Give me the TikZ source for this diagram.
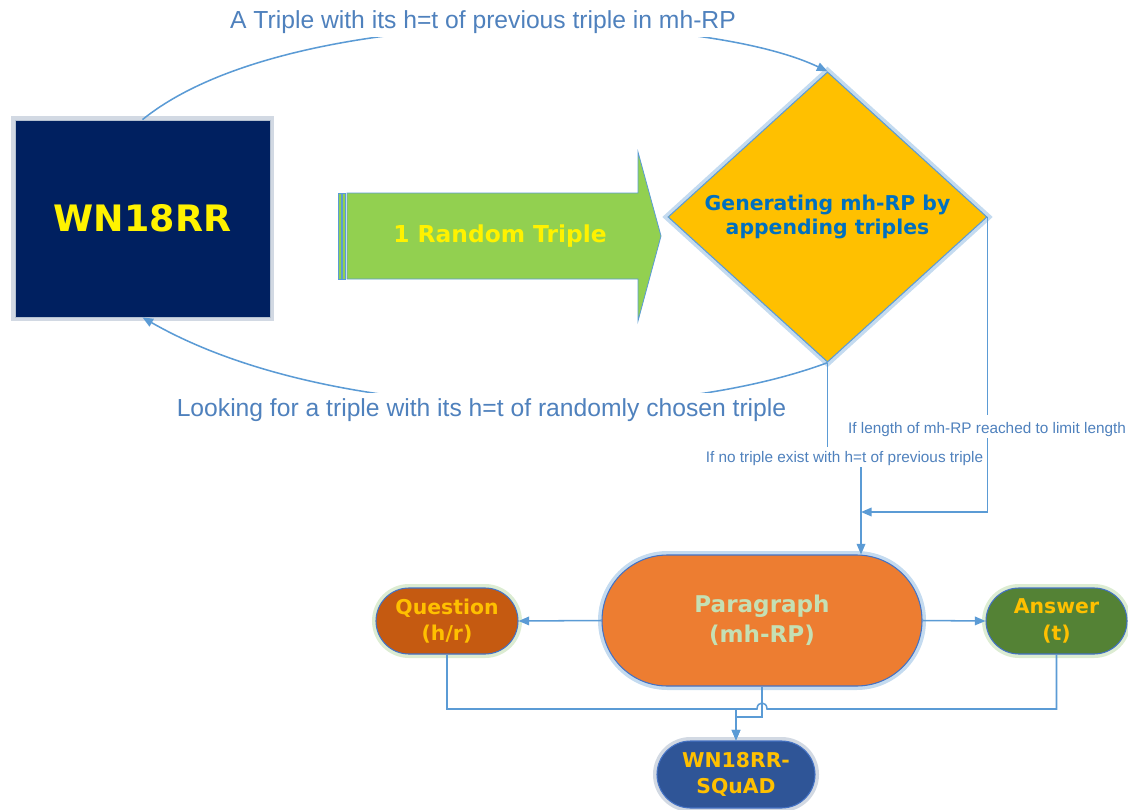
\documentclass[tikz,border=0pt]{standalone}
\usepackage{fontspec}
\setmainfont{Liberation Sans}
\newfontfamily\spfont{DejaVu Sans}
\usetikzlibrary{shapes.geometric,shapes.misc,arrows.meta}
\definecolor{navyc}{HTML}{002060}
\definecolor{greenc}{HTML}{92D050}
\definecolor{goldc}{HTML}{FFC000}
\definecolor{dtxt}{HTML}{0070C0}
\definecolor{linec}{HTML}{5B9BD5}
\definecolor{labc}{HTML}{4F81BD}
\definecolor{bordc}{HTML}{4472C4}
\definecolor{parac}{HTML}{ED7D31}
\definecolor{partxt}{HTML}{C5E0B4}
\definecolor{qc}{HTML}{C55A11}
\definecolor{ac}{HTML}{548235}
\definecolor{sqc}{HTML}{2F5597}
\definecolor{glowb}{HTML}{9DC3E6}
\definecolor{glowg}{HTML}{C5E0B4}
\definecolor{glowgr}{HTML}{B4C0D0}
\begin{document}
\begin{tikzpicture}[x=0.75pt,y=-0.75pt,
  conn/.style={draw=linec, line width=1.15pt, -{Triangle[length=8pt,width=6.5pt]}},
  plain/.style={draw=linec, line width=1.15pt},
  lbl/.style={fill=white, text=labc, font=\fontsize{11.5}{13}\selectfont, inner sep=0pt},
  biglbl/.style={fill=white, text=labc, font=\fontsize{18.5}{22}\selectfont, inner xsep=2pt, inner ysep=0pt},
  pill/.style={rounded rectangle, draw=bordc, line width=0.8pt, align=center, inner sep=0pt},
  glow/.style={preaction={draw=#1, line width=6pt, opacity=0.6}}
]
\useasboundingbox (0,0) rectangle (1128,810);

% main shapes
\node[rectangle, fill=navyc, draw=glowgr, line width=0.6pt, glow=glowgr,
      minimum width=191.25pt, minimum height=147.75pt, text=yellow,
      font=\spfont\bfseries\fontsize{27.3}{32}\selectfont] (wn) at (142.5,218.5) {WN18RR};

\node[diamond, fill=goldc, draw=linec, line width=0.8pt, glow=glowb, inner sep=0pt,
      minimum width=239.25pt, minimum height=210pt, text=dtxt, align=center,
      font=\spfont\bfseries\fontsize{15.3}{18.5}\selectfont] (dia) at (827.5,217)
      {Generating mh-RP by\\appending triples};

% big green arrow
\draw[draw=linec, fill=greenc, line width=0.6pt]
  (347,193) -- (638,193) -- (638,152) -- (661,236) -- (638,321) -- (638,279) -- (347,279) -- cycle;
\draw[draw=linec, fill=greenc, line width=0.6pt] (338,193) rectangle (341,279);
\draw[draw=linec, fill=greenc, line width=0.6pt] (342.5,193) rectangle (345.5,279);
\node[text=yellow, font=\spfont\bfseries\fontsize{17.5}{21}\selectfont] (rt) at (500,236) {1 Random Triple};

\node[pill, fill=parac, glow=glowb, minimum width=240pt, minimum height=98.25pt,
      text=partxt, font=\spfont\bfseries\fontsize{17.3}{22.5}\selectfont] (para) at (762,620.5)
      {Paragraph\\(mh-RP)};
\node[pill, fill=qc, glow=glowg, minimum width=106.5pt, minimum height=49.5pt,
      text=goldc, font=\spfont\bfseries\fontsize{15.3}{20}\selectfont] (q) at (447,621)
      {Question\\(h/r)};
\node[pill, fill=ac, glow=glowg, minimum width=105.75pt, minimum height=49.5pt,
      text=goldc, font=\spfont\bfseries\fontsize{15.3}{20}\selectfont] (ans) at (1056.5,621)
      {Answer\\(t)};
\node[pill, fill=sqc, glow=glowgr, minimum width=118.5pt, minimum height=50.25pt,
      text=goldc, font=\spfont\bfseries\fontsize{15.3}{19}\selectfont] (sq) at (736,774.5)
      {WN18RR-\\SQuAD};

% curved connectors
\draw[conn] (wn.north) .. controls (290,0) and (700,10) .. (dia.north);
\draw[conn] (dia.south) .. controls (660,425) and (330,425) .. (wn.south);
\node[biglbl, anchor=base, text height=16pt, text depth=6.75pt] (tl) at (483,28)
  {A Triple with its h=t of previous triple in mh-RP};
\node[biglbl, anchor=base, text height=17.25pt, text depth=10pt] (bl) at (481.5,416)
  {Looking for a triple with its h=t of randomly chosen triple};

% elbow connectors to paragraph
\coordinate (jt) at (861,512);
\draw[conn] (dia.south) -- (827.5,457) -- (861,457) -- (jt |- para.north);
\draw[conn] (dia.east) |- (jt);
\node[lbl, anchor=base, text height=11.25pt, text depth=3.75pt] (l1) at (844.5,462)
  {If no triple exist with h=t of previous triple};
\node[lbl, anchor=base, text height=13.5pt, text depth=3.75pt] (l2) at (987,433)
  {If length of mh-RP reached to limit length};

% paragraph to question / answer
\draw[conn] (para.west) -- (q.east);
\draw[conn] (para.east) -- (ans.west);

% to WN18RR-SQuAD
\coordinate (jb) at (736,709);
\draw[conn] (q.south) |- (jb) -- (sq.north);
\draw[conn] (para.south) -- (762,717) -- (736,717) -- (sq.north);
\draw[plain] (ans.south) |- (767,709) .. controls (767,701) and (757,701) .. (757,709) -- (jb);
\end{tikzpicture}
\end{document}
